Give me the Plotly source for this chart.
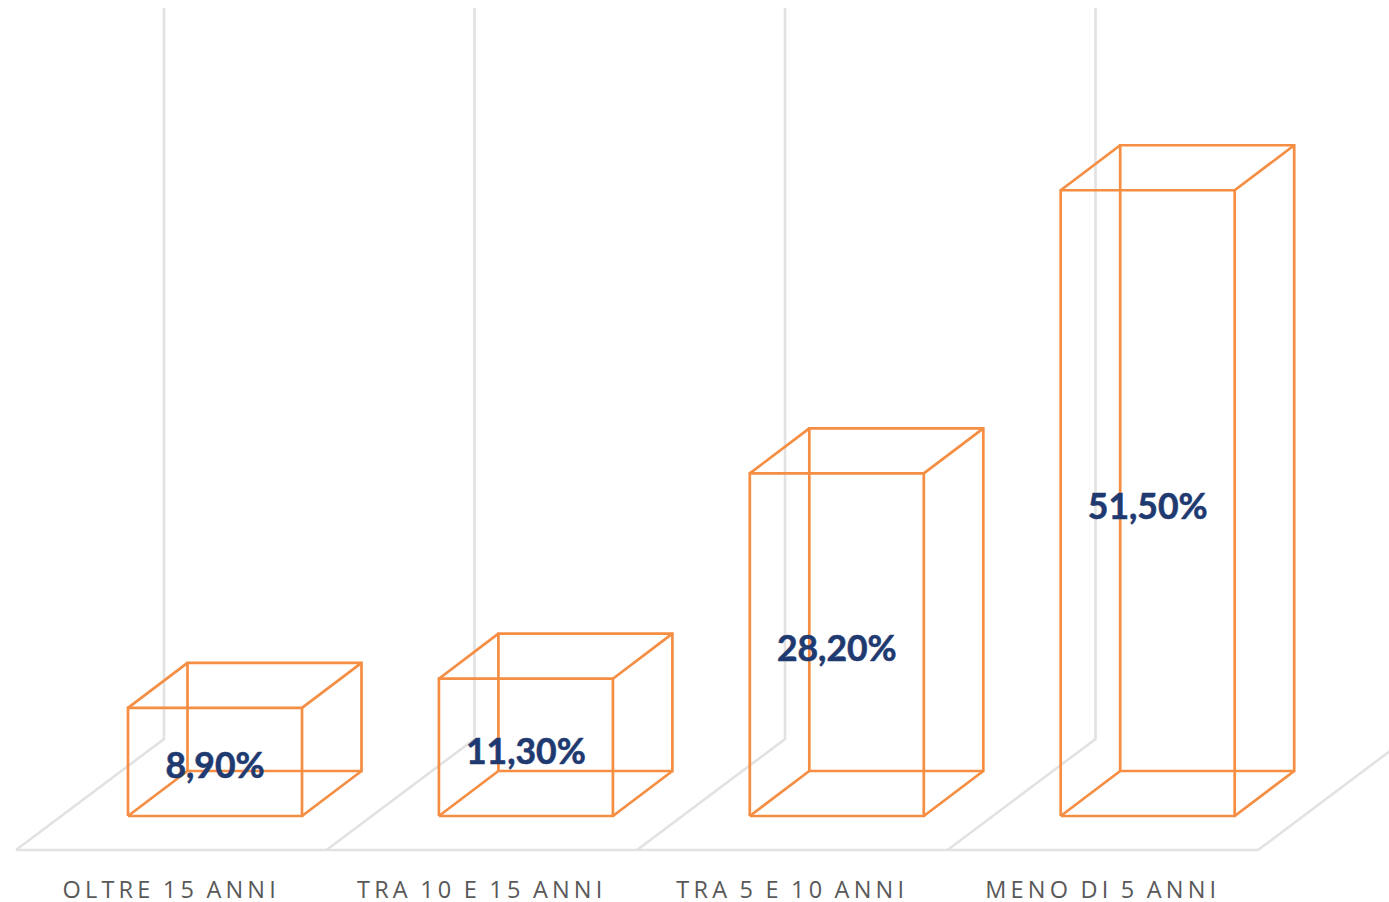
import plotly.graph_objects as go

categories = ["OLTRE 15 ANNI", "TRA 10 E 15 ANNI", "TRA 5 E 10 ANNI", "MENO DI 5 ANNI"]
values = [8.9, 11.3, 28.2, 51.5]
value_labels = ["8,90%", "11,30%", "28,20%", "51,50%"]

# Layout of the pseudo-3D frame, in axis units
W, H, PLOT_H = 1389, 902, 860
PX_X, PX_Y = 310.9, 12.15          # pixels per category / per percentage point
X0_PX, Y0_PX = 215, 816            # where bar 0 front-centre and value 0 fall
HALF = 87 / PX_X
DX, DY = 59.5 / PX_X, 45 / PX_Y
FLOOR_Y = -34 / PX_Y
BACK_DX, BACK_DY = 148 / PX_X, 111 / PX_Y
GRID_TOP = 808 / PX_Y
SLOT_LEFT = -199 / PX_X
SLOT_W = 310.5 / PX_X
LABEL_SHIFT = 0.6

n = len(categories)
gx, gy = [], []
for i in range(n + 1):
    l = i * SLOT_W + SLOT_LEFT
    gx += [l, l + BACK_DX] + ([l + BACK_DX] if i < n else []) + [None]
    gy += [FLOOR_Y, FLOOR_Y + BACK_DY] + ([GRID_TOP] if i < n else []) + [None]
gx += [SLOT_LEFT, n * SLOT_W + SLOT_LEFT]
gy += [FLOOR_Y, FLOOR_Y]

bx, by = [], []
for i, v in enumerate(values):
    a, b = i - HALF, i + HALF
    bx += [a, b, b, a, a, None, a + DX, b + DX, b + DX, a + DX, a + DX, None]
    by += [0, 0, v, v, 0, None, DY, DY, v + DY, v + DY, DY, None]
    for px, py in [(a, 0), (b, 0), (b, v), (a, v)]:
        bx += [px, px + DX, None]
        by += [py, py + DY, None]

fig = go.Figure()
fig.add_trace(go.Scatter(x=gx, y=gy, mode="lines", hoverinfo="skip",
                         line=dict(color="#E2E2E2", width=2.6)))
fig.add_trace(go.Scatter(x=bx, y=by, mode="lines", hoverinfo="skip",
                         line=dict(color="#F58D42", width=2.7)))
fig.add_trace(go.Scatter(x=list(range(n)), y=[v / 2 - LABEL_SHIFT for v in values],
                         mode="text", text=value_labels, textposition="middle center",
                         textfont=dict(family="Lato", size=35.5, color="#1F3A70", weight="bold"),
                         hoverinfo="skip"))

fig.update_layout(
    width=W, height=H, autosize=False, showlegend=False,
    paper_bgcolor="white", plot_bgcolor="white",
    margin=dict(l=0, r=0, t=0, b=H - PLOT_H, autoexpand=False),
    xaxis=dict(range=[-X0_PX / PX_X, (W - X0_PX) / PX_X], showgrid=False, zeroline=False,
               showline=False, ticks="outside", ticklen=9, tickcolor="rgba(0,0,0,0)",
               tickmode="array",
               tickvals=[SLOT_LEFT + (i + 0.5) * SLOT_W for i in range(n)], ticktext=categories,
               tickangle=0, tickfont=dict(family="Open Sans", size=23.5, color="#595959")),
    yaxis=dict(range=[(Y0_PX - PLOT_H) / PX_Y, Y0_PX / PX_Y], visible=False),
)
post = """
document.body.style.margin='0';
document.querySelectorAll('.xtick text').forEach(function(t){
  t.style.letterSpacing='4.2px'; t.style.wordSpacing='-2px';
});
document.querySelectorAll('.textpoint text').forEach(function(t){
  t.style.stroke='#1F3A70'; t.style.strokeWidth='0.6px';
});
"""
fig.write_html("out.html", post_script=post, config={"displayModeBar": False})
